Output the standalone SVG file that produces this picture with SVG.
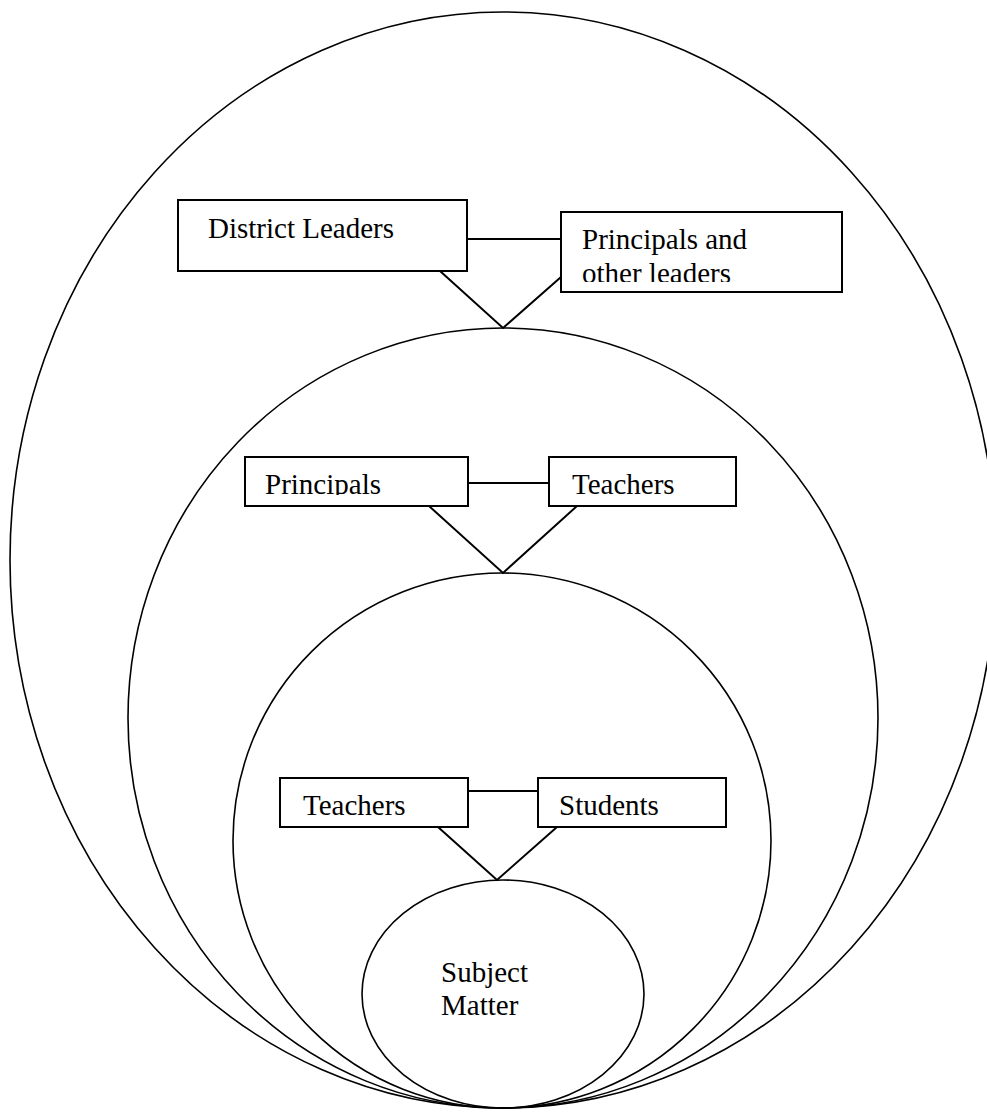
<svg xmlns="http://www.w3.org/2000/svg" width="987" height="1112" viewBox="0 0 987 1112">
<style>
.ring{fill:none;stroke:#000;stroke-width:1.6}
.box{fill:#fff;stroke:#000;stroke-width:2}
.lbl{font-family:"Liberation Serif","Times New Roman",serif;font-size:29px;fill:#000}
.con{fill:none;stroke:#000;stroke-width:2}
</style>
<defs>
<clipPath id="c1"><rect x="562" y="213" width="279" height="69"/></clipPath>
<clipPath id="c2"><rect x="246" y="458" width="221" height="37"/></clipPath>
</defs>
<rect width="987" height="1112" fill="#fff"/>
<g id="ring-outer"><ellipse class="ring" cx="503" cy="560" rx="493" ry="548"/></g>
<g id="ring-2"><ellipse class="ring" cx="503" cy="718" rx="375" ry="390"/></g>
<g id="ring-3"><ellipse class="ring" cx="502" cy="840.5" rx="269" ry="267.5"/></g>
<g id="subject-matter">
<ellipse class="ring" cx="503" cy="994" rx="141" ry="114"/>
<text class="lbl" x="441" y="982">Subject</text>
<text class="lbl" x="441" y="1015">Matter</text>
</g>
<g id="connectors">
<line class="con" x1="467" y1="239" x2="561" y2="239"/>
<polyline class="con" points="440,271 503,328 561,277"/>
<line class="con" x1="468" y1="483" x2="549" y2="483"/>
<polyline class="con" points="429,506 503,573 577,506"/>
<line class="con" x1="468" y1="791" x2="538" y2="791"/>
<polyline class="con" points="438,827 497,880 557,827"/>
</g>
<g id="district-leaders">
<rect class="box" x="178" y="200" width="289" height="71"/>
<text class="lbl" x="208" y="238">District Leaders</text>
</g>
<g id="principals-other-leaders">
<rect class="box" x="561" y="212" width="281" height="80"/>
<g clip-path="url(#c1)">
<text class="lbl" x="582" y="249">Principals and</text>
<text class="lbl" x="582" y="283">other leaders</text>
</g>
</g>
<g id="principals">
<rect class="box" x="245" y="457" width="223" height="49"/>
<g clip-path="url(#c2)"><text class="lbl" x="265" y="494">Principals</text></g>
</g>
<g id="teachers-1">
<rect class="box" x="549" y="457" width="187" height="49"/>
<text class="lbl" x="572" y="494">Teachers</text>
</g>
<g id="teachers-2">
<rect class="box" x="280" y="778" width="188" height="49"/>
<text class="lbl" x="303" y="815">Teachers</text>
</g>
<g id="students">
<rect class="box" x="538" y="778" width="188" height="49"/>
<text class="lbl" x="559" y="815">Students</text>
</g>
</svg>
